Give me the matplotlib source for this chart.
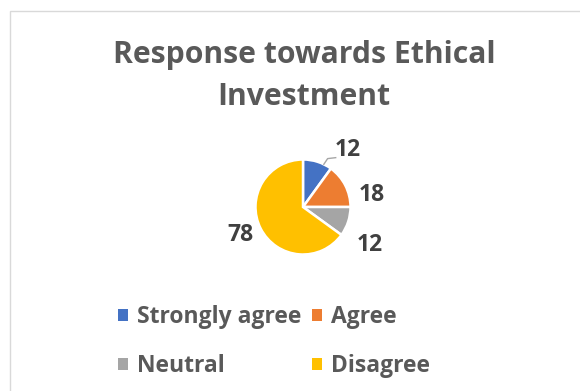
import numpy as np
import matplotlib
matplotlib.use("Agg")
import matplotlib.pyplot as plt
from matplotlib.patches import Patch, Rectangle

# ---- data ----
categories = ["Strongly agree", "Agree", "Neutral", "Disagree"]
values = [12, 18, 12, 78]
colors = ["#4472C4", "#ED7D31", "#A5A5A5", "#FFC000"]
title = "Response towards Ethical\nInvestment"

# ---- style (label placement relative to slice mid-angle) ----
label_angle_offset = [-20.3, -17.1, -11.6, -3]
label_dist = [1.53, 1.47, 1.62, 1.45]

W, H = 580, 391
fig = plt.figure(figsize=(W / 100, H / 100), dpi=100)
fig.patch.set_facecolor("white")

# chart border
fig.add_artist(Rectangle((9.5 / W, -0.1), 1.2, 1 - 10.5 / H + 0.1,
                         transform=fig.transFigure, fill=False,
                         edgecolor="#D9D9D9", linewidth=1.0))

FONT = "Open Sans"
fig.text(304 / W, 1 - 76 / H, title, ha="center", va="center",
         fontsize=21.7, fontweight="bold", color="#595959", family=FONT,
         linespacing=1.5)

# pie axes: centered at (303, 207) px, radius 47.5 px
cx, cy, r = 303, 207, 47.5
half = 100
ax = fig.add_axes([(cx - half) / W, (H - cy - half) / H, 2 * half / W, 2 * half / H])
wedges, _ = ax.pie(values, colors=colors, startangle=90, counterclock=False,
                   radius=1, wedgeprops=dict(edgecolor="white", linewidth=1.8))
ax.set_xlim(-half / r, half / r)
ax.set_ylim(-half / r, half / r)
ax.set_aspect("equal")
ax.axis("off")

for i, (w, v) in enumerate(zip(wedges, values)):
    mid = (w.theta1 + w.theta2) / 2
    a = np.deg2rad(mid + label_angle_offset[i])
    tx, ty = label_dist[i] * np.cos(a), label_dist[i] * np.sin(a)
    ax.text(tx, ty, str(v), ha="center", va="center", fontsize=16.5,
            fontweight="bold", color="#404040", family=FONT)
    if i == 0:
        am = np.deg2rad(mid - 8)
        ex, ey = np.cos(am), np.sin(am)
        ax.plot([ex, ex + 0.08, ex + 0.25], [ey, ey + 0.12, ey + 0.14],
                color="#A6A6A6", linewidth=1.0, clip_on=False)

order = [0, 2, 1, 3]
handles = [Patch(facecolor=colors[i], edgecolor="none") for i in order]
labels = [categories[i] for i in order]
leg = fig.legend(handles, labels, ncol=2, loc="upper left",
                 bbox_to_anchor=(118 / W, 1 - 305 / H), frameon=False,
                 handlelength=0.44, handleheight=0.44,
                 handletextpad=0.4, columnspacing=0.45, labelspacing=1.1,
                 borderpad=0, borderaxespad=0,
                 prop=dict(family=FONT, weight="bold", size=16.5))
for t in leg.get_texts():
    t.set_color("#595959")

fig.savefig("out.png", dpi=100, facecolor="white")
